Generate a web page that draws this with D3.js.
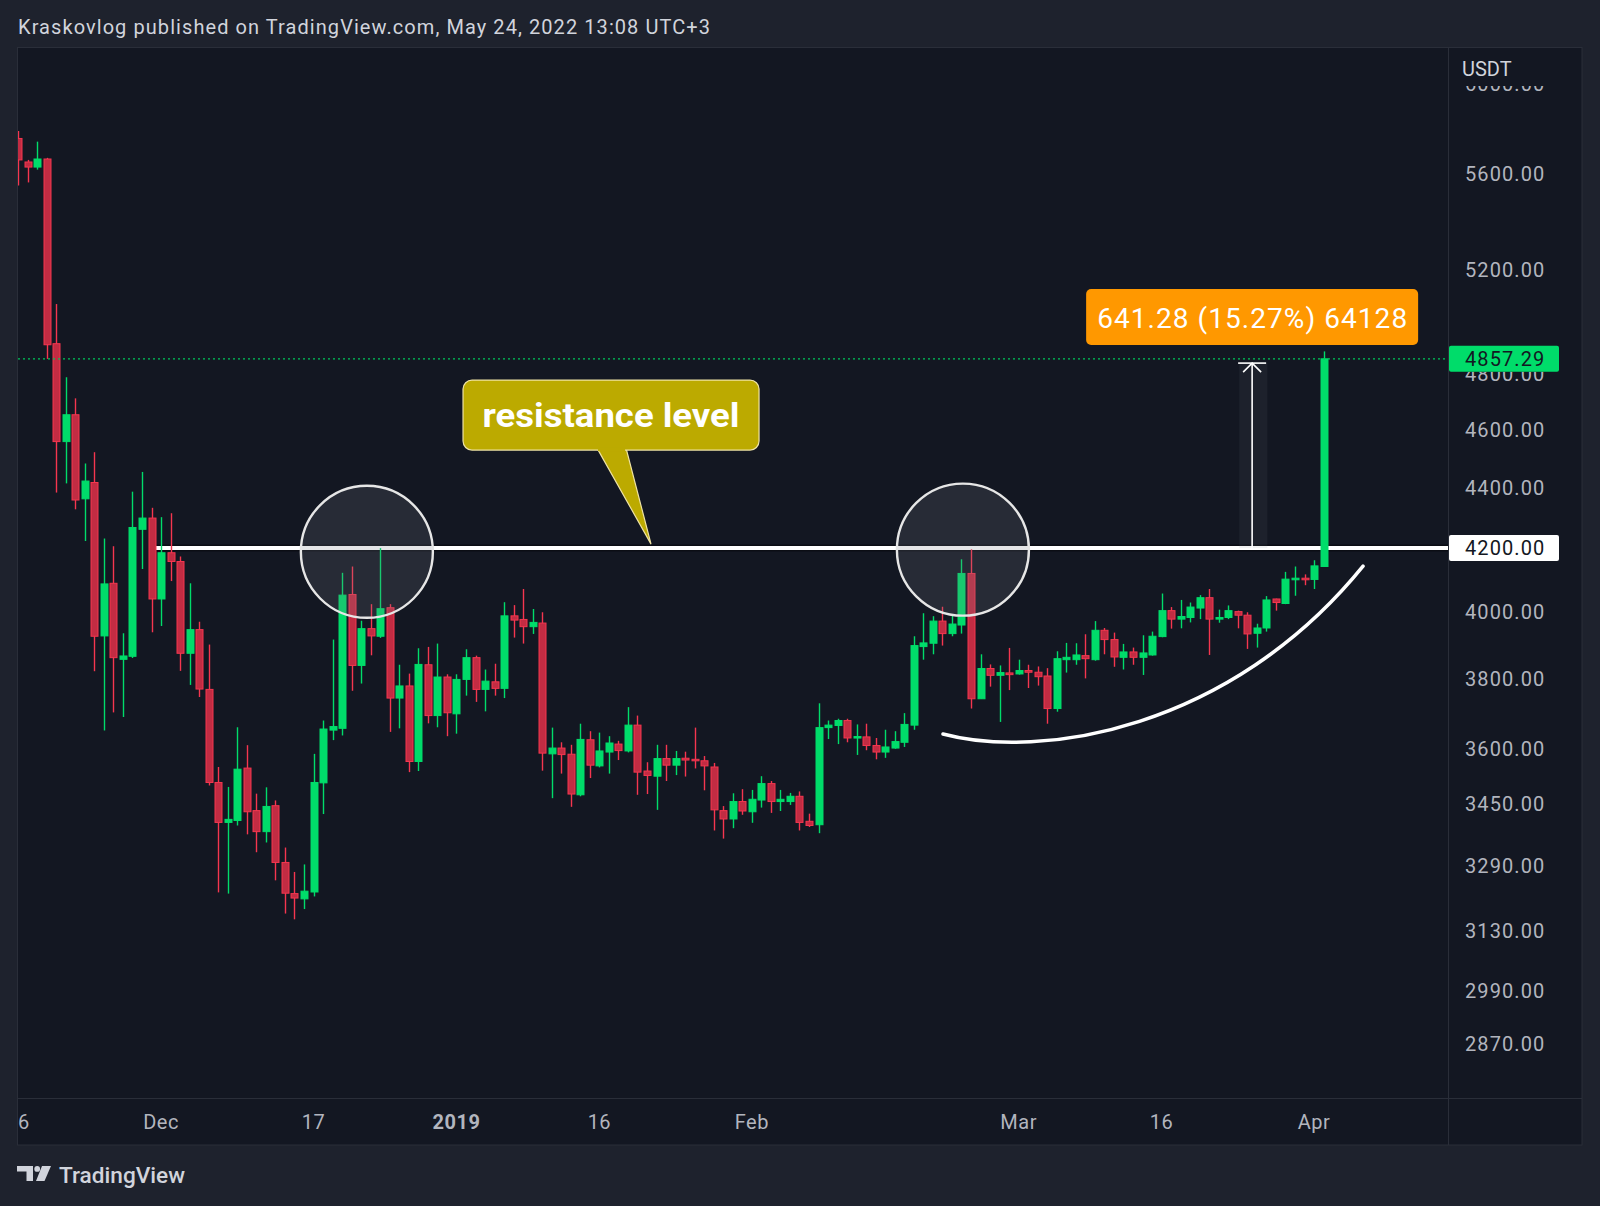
<!DOCTYPE html>
<html>
<head>
<meta charset="utf-8">
<script src="https://cdn.jsdelivr.net/npm/d3@7/dist/d3.min.js"></script>
<style>
  body { margin: 0; background: #1e222d; }
  svg { display: block; font-family: Roboto, "Noto Sans", sans-serif; }
</style>
</head>
<body>
<svg id="chart" width="1600" height="1206"></svg>
<script>
/*====================================
  Data (BTC/USDT daily, 16 Nov 2018 - 2 Apr 2019)
======================================*/
var firstDay = "2018-11-16";
var lastDay = "2019-04-02";

var open = [5753,5650,5628,5663,4914,4558,4653,4362,4417,3926,
  4088,3856,3865,4261,4298,4039,4185,4157,3874,3945,
  3768,3508,3402,3407,3547,3433,3378,3446,3299,3221,
  3208,3225,3507,3652,3657,4053,3838,3948,3925,4012,
  3743,3778,3565,3840,3693,3804,3698,3797,3861,3768,
  3790,3771,3987,3976,3954,3965,3586,3602,3585,3475,
  3625,3553,3591,3613,3594,3666,3539,3525,3573,3555,
  3574,3571,3567,3550,3433,3411,3457,3430,3461,3505,
  3457,3457,3471,3405,3396,3659,3665,3679,3630,3633,
  3609,3591,3602,3618,3666,3894,3904,3971,3933,3959,
  4119,3741,3829,3809,3816,3813,3823,3818,3807,3713,
  3855,3855,3867,3855,3943,3915,3862,3878,3862,3869,
  3924,4003,3977,3982,4011,4043,3977,3982,4000,3989,
  3934,3950,4039,4025,4099,4104,4100,4141];

var high = [5786,5659,5739,5668,5066,4789,4712,4482,4521,4231,
  4206,3934,4386,4453,4332,4301,4314,4173,4088,3969,
  3900,3550,3496,3660,3610,3478,3495,3460,3337,3275,
  3294,3586,3679,3915,4121,4141,3972,4023,4200,4023,
  3840,3814,3889,3893,3903,3812,3812,3886,3867,3826,
  3843,4029,4020,4070,4008,3998,3659,3618,3611,3670,
  3649,3645,3635,3622,3717,3693,3563,3611,3611,3594,
  3592,3659,3580,3561,3445,3479,3490,3488,3525,3512,
  3488,3480,3484,3425,3728,3679,3684,3684,3668,3670,
  3630,3653,3649,3700,3925,3995,3986,4015,3989,4164,
  4196,3871,3841,3838,3890,3855,3840,3835,3830,3880,
  3905,3904,3931,3971,3950,3936,3902,3891,3928,3939,
  4056,4014,4036,4028,4051,4070,4006,4019,4003,3998,
  3963,4048,4040,4124,4141,4116,4161,4885];

var low = [5549,5562,5617,4857,4383,4414,4327,4223,3821,3651,
  3702,3689,3860,4133,3937,3956,4095,3822,3781,3746,
  3500,3224,3221,3394,3371,3325,3350,3254,3172,3158,
  3183,3214,3424,3624,3637,3764,3785,3868,3920,3647,
  3657,3536,3539,3671,3660,3635,3642,3750,3732,3705,
  3750,3743,3921,3903,3932,3540,3466,3532,3443,3471,
  3520,3549,3532,3569,3590,3475,3477,3435,3512,3528,
  3524,3546,3487,3381,3360,3387,3422,3401,3441,3427,
  3432,3448,3381,3390,3374,3627,3613,3618,3583,3596,
  3571,3575,3600,3605,3653,3855,3871,3897,3925,3933,
  3713,3741,3776,3675,3766,3811,3772,3779,3670,3704,
  3817,3840,3800,3852,3871,3834,3826,3840,3810,3867,
  3922,3948,3949,3967,3977,3869,3966,3977,3949,3887,
  3891,3939,4003,4023,4049,4082,4070,4141];

var close = [5659,5628,5663,4910,4558,4653,4358,4422,3925,4086,
  3861,3866,4267,4298,4039,4185,4157,3874,3945,3769,
  3508,3402,3410,3544,3430,3378,3444,3299,3222,3210,
  3227,3508,3655,3662,4051,3838,3948,3926,4009,3743,
  3778,3565,3841,3693,3804,3701,3797,3861,3768,3792,
  3771,3987,3974,3954,3967,3588,3602,3584,3477,3626,
  3555,3594,3616,3595,3666,3536,3527,3573,3555,3573,
  3569,3567,3553,3435,3411,3457,3432,3463,3505,3457,
  3463,3471,3402,3394,3659,3666,3679,3630,3634,3609,
  3591,3605,3620,3668,3897,3905,3971,3933,3962,4119,
  3741,3829,3809,3817,3811,3823,3818,3805,3713,3858,
  3862,3869,3858,3943,3915,3863,3878,3862,3875,3925,
  4003,3977,3985,4014,4043,3977,3982,4003,3989,3932,
  3950,4036,4028,4101,4104,4099,4143,4857.29];

var priceTicks = [6000, 5600, 5200, 4800, 4600, 4400, 4000, 3800, 3600, 3450, 3290, 3130, 2990, 2870];
var timeTicks = ["2018-11-16", "2018-12-01", "2018-12-17", "2019-01-01", "2019-01-16", "2019-02-01", "2019-03-01", "2019-03-16", "2019-04-01"];
var timeTickLabels = ["16", "Dec", "17", "2019", "16", "Feb", "Mar", "16", "Apr"];

var resistance = 4200;
var lastPrice = 4857.29;
var measureTo = 4841.28;
var measureText = "641.28 (15.27%) 64128";

// drawings, anchored as [day offset from first candle, price]
var circleDays = [36.6, 99.15];
var circlePrices = [4188, 4195];
var curveDays = [97.06, 107.24, 127.18, 141.14];
var curvePrices = [3641, 3569, 3652, 4142];
var calloutDay = 66.42;

/*====================================
  Layout
======================================*/
var paneL = 18, paneR = 1448, paneT = 48, paneB = 1098, frameR = 1582, frameB = 1145;
var upColor = "#00dc6a", downColor = "#f5364f", downFill = "#c22c43";

var svg = d3.select("#chart");
var parse = d3.utcParse("%Y-%m-%d");
var day0 = parse(firstDay);
var days = d3.utcDay.range(day0, d3.utcDay.offset(parse(lastDay), 1));
var candles = days.map(function (d, i) {
  return { date: d, o: open[i], h: high[i], l: low[i], c: close[i] };
});

var x = d3.scaleUtc().domain([day0, parse(lastDay)]).range([18.1, 1323.6]);
var y = d3.scaleLog().domain([2753, 6167]).range([paneB, paneT]);
function xd(n) { return x(new Date(+day0 + n * 864e5)); }

// background
svg.append("rect").attr("width", 1600).attr("height", 1206).attr("fill", "#1e222d");
svg.append("rect").attr("x", paneL - 0.5).attr("y", paneT - 0.5)
  .attr("width", frameR - paneL + 0.5).attr("height", frameB - paneT + 0.5)
  .attr("fill", "#131722").attr("stroke", "#2a2e39");

var defs = svg.append("defs");
defs.append("clipPath").attr("id", "pane").append("rect")
  .attr("x", paneL).attr("y", paneT).attr("width", paneR - paneL).attr("height", paneB - paneT);
defs.append("clipPath").attr("id", "timeaxis").append("rect")
  .attr("x", paneL).attr("y", paneB).attr("width", paneR - paneL).attr("height", frameB - paneB);
// tick labels are hidden under the currency header and the last price label
var tickClip = defs.append("clipPath").attr("id", "ticks");
tickClip.append("rect").attr("x", paneR).attr("y", 86).attr("width", 140).attr("height", y(lastPrice) - 13 - 86);
tickClip.append("rect").attr("x", paneR).attr("y", y(lastPrice) + 13).attr("width", 140).attr("height", paneB - y(lastPrice) - 13);

var pane = svg.append("g").attr("clip-path", "url(#pane)");

/*====================================
  Resistance line
======================================*/
pane.append("line").attr("x1", xd(14)).attr("x2", paneR)
  .attr("y1", y(resistance)).attr("y2", y(resistance))
  .attr("stroke", "#0b0d14").attr("stroke-width", 7);
pane.append("line").attr("x1", xd(14)).attr("x2", paneR)
  .attr("y1", y(resistance)).attr("y2", y(resistance))
  .attr("stroke", "#ffffff").attr("stroke-width", 4);

/*====================================
  Measure (range) box
======================================*/
var mx = xd(129.5);
pane.append("rect").attr("x", xd(128.15)).attr("width", xd(131.1) - xd(128.15))
  .attr("y", y(measureTo)).attr("height", y(resistance) - y(measureTo))
  .attr("fill", "rgba(120,123,134,0.1)");
pane.append("line").attr("x1", mx).attr("x2", mx)
  .attr("y1", y(resistance)).attr("y2", y(measureTo))
  .attr("stroke", "#ffffff").attr("stroke-width", 1.6);
pane.append("line").attr("x1", mx - 14).attr("x2", mx + 14)
  .attr("y1", y(measureTo)).attr("y2", y(measureTo))
  .attr("stroke", "#ffffff").attr("stroke-width", 1.6);
pane.append("path")
  .attr("d", "M" + (mx - 9) + "," + (y(measureTo) + 9) + "L" + mx + "," + y(measureTo) + "L" + (mx + 9) + "," + (y(measureTo) + 9))
  .attr("fill", "none").attr("stroke", "#ffffff").attr("stroke-width", 1.6);

/*====================================
  Candles
======================================*/
var g = pane.append("g");
var bars = g.selectAll("g.candle").data(candles).enter().append("g").attr("class", "candle");
bars.append("line")
  .attr("x1", function (d) { return Math.round(x(d.date)) + 0.5; })
  .attr("x2", function (d) { return Math.round(x(d.date)) + 0.5; })
  .attr("y1", function (d) { return y(d.h); })
  .attr("y2", function (d) { return y(d.l); })
  .attr("stroke", function (d) { return d.c >= d.o ? upColor : downColor; })
  .attr("stroke-width", 1.4);
bars.append("rect")
  .attr("x", function (d) { return Math.round(x(d.date)) - 3; })
  .attr("width", 7)
  .attr("y", function (d) { return y(Math.max(d.o, d.c)); })
  .attr("height", function (d) { return Math.max(1.5, Math.abs(y(d.o) - y(d.c))); })
  .attr("fill", function (d) { return d.c >= d.o ? upColor : downFill; })
  .attr("stroke", function (d) { return d.c >= d.o ? upColor : downColor; })
  .attr("stroke-width", 1);

// circles over the line
pane.selectAll("ellipse.mark").data(circleDays).enter().append("ellipse")
  .attr("class", "mark")
  .attr("cx", function (d) { return xd(d); })
  .attr("cy", function (d, i) { return y(circlePrices[i]); })
  .attr("rx", 66).attr("ry", 66)
  .attr("fill", "rgba(120,123,134,0.2)")
  .attr("stroke", "#e6e6e6").attr("stroke-width", 2.4);

// arc under the March lows
var cp = curveDays.map(function (d, i) { return [xd(d), y(curvePrices[i])]; });
pane.append("path")
  .attr("d", "M" + cp[0] + "C" + cp[1] + " " + cp[2] + " " + cp[3])
  .attr("fill", "none").attr("stroke", "#ffffff").attr("stroke-width", 3.5).attr("stroke-linecap", "round");

// last price line
pane.append("line").attr("x1", paneL).attr("x2", paneR)
  .attr("y1", y(lastPrice)).attr("y2", y(lastPrice))
  .attr("stroke", "#00c85a").attr("stroke-width", 1.3).attr("stroke-dasharray", "2,3");

/*====================================
  Callout
======================================*/
var tx = xd(calloutDay), ty = y(resistance) - 4;
var cg = pane.append("g");
cg.append("path")
  .attr("d", "M" + (tx - 54) + "," + (ty - 96) + "L" + tx + "," + ty + "L" + (tx - 25) + "," + (ty - 96) + "Z")
  .attr("fill", "#bcaa00").attr("stroke", "#efe3a3").attr("stroke-width", 1.2);
cg.append("rect").attr("x", tx - 188).attr("y", ty - 164).attr("width", 296).attr("height", 70)
  .attr("rx", 9).attr("fill", "#bcaa00").attr("stroke", "#efe3a3").attr("stroke-width", 1.2);
cg.append("rect").attr("x", tx - 53).attr("y", ty - 97).attr("width", 27).attr("height", 4).attr("fill", "#bcaa00");
cg.append("text").attr("x", tx - 40).attr("y", ty - 117)
  .attr("text-anchor", "middle").attr("font-size", 34).attr("font-weight", 700)
  .attr("fill", "#ffffff").attr("textLength", 257).attr("lengthAdjust", "spacingAndGlyphs")
  .text("resistance level");

// measure label
svg.append("rect").attr("x", mx - 166).attr("width", 332)
  .attr("y", 289).attr("height", 56).attr("rx", 5).attr("fill", "#ff9800");
svg.append("text").attr("x", mx).attr("y", 328)
  .attr("text-anchor", "middle").attr("font-size", 28).attr("fill", "#ffffff")
  .attr("textLength", 310).attr("lengthAdjust", "spacing")
  .text(measureText);

/*====================================
  Price axis
======================================*/
svg.append("line").attr("x1", paneR + 0.5).attr("x2", paneR + 0.5).attr("y1", paneT).attr("y2", frameB)
  .attr("stroke", "#2a2e39");
svg.append("line").attr("x1", paneL).attr("x2", frameR).attr("y1", paneB + 0.5).attr("y2", paneB + 0.5)
  .attr("stroke", "#2a2e39");

svg.append("g").attr("clip-path", "url(#ticks)")
  .selectAll("text.ptick").data(priceTicks).enter().append("text")
  .attr("class", "ptick")
  .attr("x", 1465).attr("y", function (d) { return y(d); }).attr("dy", "0.36em")
  .attr("font-size", 20).attr("letter-spacing", 1.1).attr("fill", "#b2b5be")
  .text(function (d) { return d3.format(".2f")(d); });

svg.append("text").attr("x", 1462).attr("y", 69).attr("dy", "0.36em")
  .attr("font-size", 20).attr("fill", "#d1d4dc").text("USDT");

function axisLabel(price, bg) {
  svg.append("rect").attr("x", paneR + 1).attr("y", y(price) - 13).attr("width", 110).attr("height", 26)
    .attr("rx", 2).attr("fill", bg);
  svg.append("text").attr("x", 1465).attr("y", y(price)).attr("dy", "0.36em")
    .attr("font-size", 20).attr("letter-spacing", 1.1).attr("fill", "#131722")
    .text(d3.format(".2f")(price));
}
axisLabel(lastPrice, "#00dc6a");
axisLabel(resistance, "#ffffff");

/*====================================
  Time axis
======================================*/
svg.append("g").attr("clip-path", "url(#timeaxis)")
  .selectAll("text").data(timeTicks).enter().append("text")
  .attr("x", function (d) { return x(parse(d)); })
  .attr("y", 1122).attr("dy", "0.36em")
  .attr("text-anchor", "middle").attr("font-size", 20).attr("letter-spacing", 0.5)
  .attr("font-weight", function (d, i) { return timeTickLabels[i] === "2019" ? 700 : 400; })
  .attr("fill", "#b2b5be")
  .text(function (d, i) { return timeTickLabels[i]; });

/*====================================
  Header / footer
======================================*/
svg.append("text").attr("x", 18).attr("y", 34).attr("font-size", 20).attr("fill", "#d1d4dc")
  .attr("textLength", 692).attr("lengthAdjust", "spacing")
  .text("Kraskovlog published on TradingView.com, May 24, 2022 13:08 UTC+3");

var logo = svg.append("g").attr("transform", "translate(17,1166)").attr("fill", "#d1d4dc");
logo.append("path").attr("d", "M0,0H16V15H9.5V5.6H0Z");
logo.append("circle").attr("cx", 20.2).attr("cy", 2.9).attr("r", 2.9);
logo.append("path").attr("d", "M25,0H34L27.5,15H19Z");
svg.append("text").attr("x", 59).attr("y", 1183).attr("font-size", 22).attr("font-weight", 500)
  .attr("fill", "#d1d4dc").attr("textLength", 126).attr("lengthAdjust", "spacingAndGlyphs")
  .text("TradingView");
</script>
</body>
</html>
